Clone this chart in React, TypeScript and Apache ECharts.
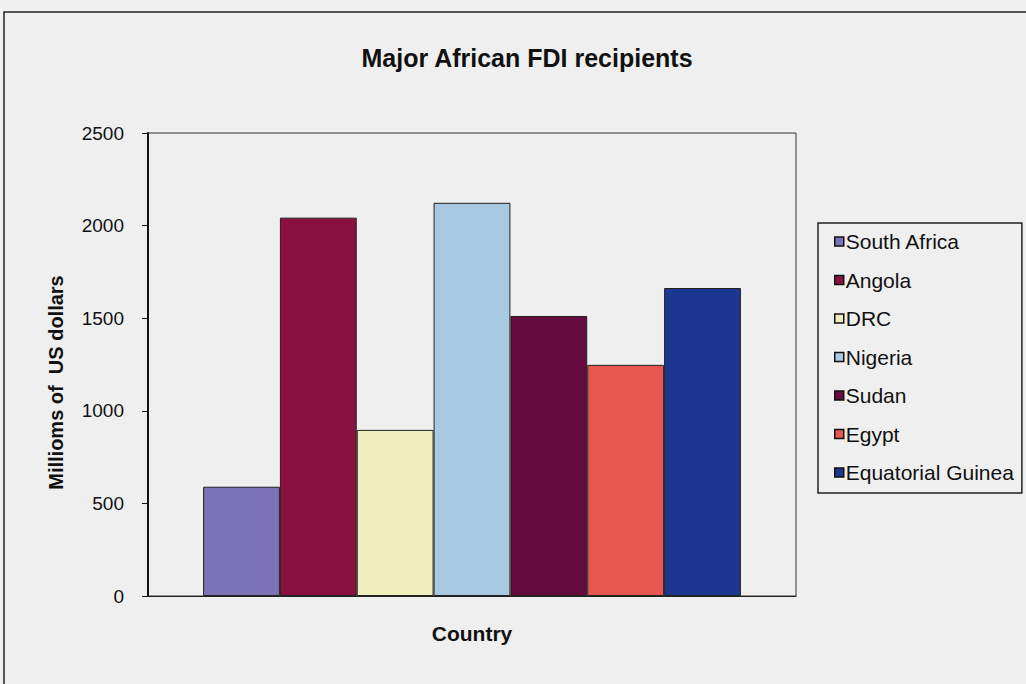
import React, { useEffect, useRef } from "react";
import * as echarts from "echarts";

const categories = [""];
const countries = ["South Africa", "Angola", "DRC", "Nigeria", "Sudan", "Egypt", "Equatorial Guinea"];
const values = [590, 2043, 897, 2123, 1512, 1248, 1663];
const colors = ["#7c72b8", "#8a1040", "#eeeebc", "#a9c8e2", "#650b3f", "#e8574f", "#1d3690"];
const yTicks = { min: 0, max: 2500, interval: 500 };

export default function App() {
  const ref = useRef<HTMLDivElement>(null);
  useEffect(() => {
    document.body.style.margin = "0";
    const chart = echarts.init(ref.current!, null, { renderer: "svg" });
    const font = "Liberation Sans, Arial, sans-serif";
    chart.setOption({
      animation: false,
      backgroundColor: "#efefef",
      textStyle: { fontFamily: font },
      title: {
        text: "Major African FDI recipients",
        left: 522,
        top: 40,
        textAlign: "center",
        textStyle: { fontSize: 25, fontWeight: "bold", color: "#111", fontFamily: font },
      },
      graphic: [
        {
          type: "rect",
          shape: { x: 4, y: 12, width: 1040, height: 690 },
          style: { fill: "none", stroke: "#222", lineWidth: 1.5 },
          silent: true,
        },
      ],
      legend: {
        orient: "vertical",
        left: 818,
        top: 223,
        padding: [8, 8, 10, 16],
        itemGap: 17.5,
        itemWidth: 9,
        itemHeight: 9,
        icon: "rect",
        borderColor: "#222",
        borderWidth: 1.5,
        data: countries,
        itemStyle: { borderColor: "#111", borderWidth: 1.5 },
        textStyle: { fontSize: 21, color: "#111", fontFamily: font, padding: [0, 0, 0, -3] },
      },
      grid: {
        left: 148,
        top: 133,
        right: 230,
        bottom: 88,
        show: true,
        borderColor: "#333",
        borderWidth: 1,
        backgroundColor: "transparent",
      },
      xAxis: {
        type: "category",
        data: categories,
        name: "Country",
        nameLocation: "middle",
        nameGap: 27,
        nameTextStyle: { fontSize: 21, fontWeight: "bold", color: "#111", fontFamily: font },
        axisLine: { lineStyle: { color: "#222", width: 1 } },
        axisTick: { show: false },
        axisLabel: { show: false },
      },
      yAxis: {
        type: "value",
        min: yTicks.min,
        max: yTicks.max,
        interval: yTicks.interval,
        name: "Millioms of  US dollars",
        nameLocation: "middle",
        nameGap: 82,
        nameRotate: 90,
        nameTextStyle: {
          fontSize: 20,
          fontWeight: "bold",
          color: "#111",
          fontFamily: font,
          padding: [0, 36, 0, 0],
        },
        axisLine: { show: true, lineStyle: { color: "#111", width: 2 } },
        axisTick: { show: true, inside: false, length: 6, lineStyle: { color: "#111" } },
        axisLabel: {
          fontSize: 19,
          color: "#111",
          margin: 24,
          fontFamily: font,
          formatter: (v: number) => String(v),
        },
        splitLine: { show: false },
      },
      series: countries.map((name, i) => ({
        name,
        type: "bar",
        data: [values[i]],
        barGap: "0%",
        barCategoryGap: "17%",
        itemStyle: { color: colors[i], borderColor: "#222", borderWidth: 1 },
      })),
    });
    return () => chart.dispose();
  }, []);
  return <div ref={ref} style={{ width: 1026, height: 684, position: "fixed", left: 0, top: 0 }} />;
}
